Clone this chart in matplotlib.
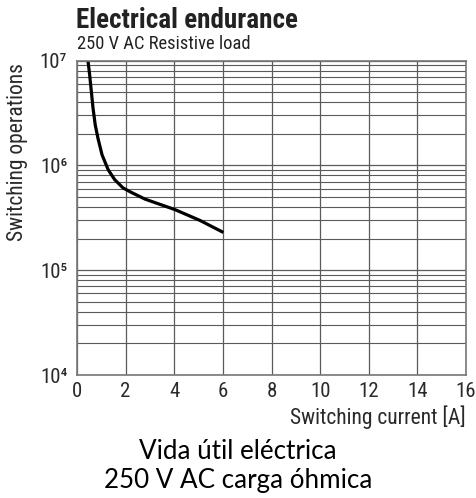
import numpy as np
import matplotlib
matplotlib.use("Agg")
import matplotlib.pyplot as plt
from matplotlib.ticker import FixedLocator, LogLocator, NullFormatter

# donnees
courant = [0.43, 0.52, 0.59, 0.66, 0.75, 0.86, 1.03, 1.28, 1.55, 1.77, 1.89,
           2.18, 2.80, 4.03, 5.06, 6.02]
operations = [1.1e7, 7.3e6, 5.05e6, 3.5e6, 2.43e6, 1.82e6, 1.26e6, 9.1e5, 7.3e5, 6.5e5, 6.1e5,
              5.6e5, 4.76e5, 3.78e5, 2.98e5, 2.29e5]

x_ticks = [0, 2, 4, 6, 8, 10, 12, 14, 16]
y_decades = [1e4, 1e5, 1e6, 1e7]
y_labels = ["10⁴", "10⁵", "10⁶", "10⁷"]

titre = "Electrical endurance"
sous_titre = "250 V AC Resistive load"
legende_es = "Vida útil eléctrica\n250 V AC carga óhmica"

plt.rcParams["font.family"] = ["Roboto Condensed", "DejaVu Sans"]

grid_col = "#5a5a5a"
txt_col = "#2a2a2a"

fig = plt.figure(figsize=(4.76, 4.98), dpi=100)
ax = fig.add_axes([77 / 476, 1 - 375 / 498, 389 / 476, 314.5 / 498])

ax.plot(courant, operations, color="black", linewidth=2.3,
        solid_capstyle="butt", solid_joinstyle="round")

ax.set_yscale("log")
ax.set_xlim(0, 16)
ax.set_ylim(1e4, 1e7)

ax.xaxis.set_major_locator(FixedLocator(x_ticks))
ax.yaxis.set_major_locator(FixedLocator(y_decades))
ax.yaxis.set_minor_locator(LogLocator(base=10, subs=np.arange(2, 10)))
ax.yaxis.set_minor_formatter(NullFormatter())
ax.set_yticklabels(y_labels)

ax.grid(True, which="major", color=grid_col, linewidth=0.9)
ax.grid(True, which="minor", axis="y", color=grid_col, linewidth=0.8)
ax.tick_params(which="both", length=0)
ax.tick_params(axis="x", pad=5, labelsize=15, colors=txt_col)
ax.tick_params(axis="y", pad=7, labelsize=15, colors=txt_col)
for sp in ax.spines.values():
    sp.set_color("#777777")
    sp.set_linewidth(1.2)

ax.set_xlabel("Switching current [A]", fontsize=15.5, color=txt_col, loc="right", labelpad=3)
ax.set_ylabel("Switching operations", fontsize=15.5, color=txt_col)
ax.yaxis.set_label_coords(-0.125, 0.71)

fig.text(76 / 476, 1 - 20 / 498, titre, fontsize=19.5, fontweight="bold",
         color="#222222", va="center", ha="left")
fig.text(77 / 476, 1 - 44 / 498, sous_titre, fontsize=13.3,
         color="#222222", va="center", ha="left")

fig.text(0.5, 1 - 466 / 498, legende_es, fontsize=18.7, color="black",
         ha="center", va="center", linespacing=1.2,
         family=["Lato", "DejaVu Sans"])

fig.savefig("out.png", dpi=100)
plt.close(fig)
